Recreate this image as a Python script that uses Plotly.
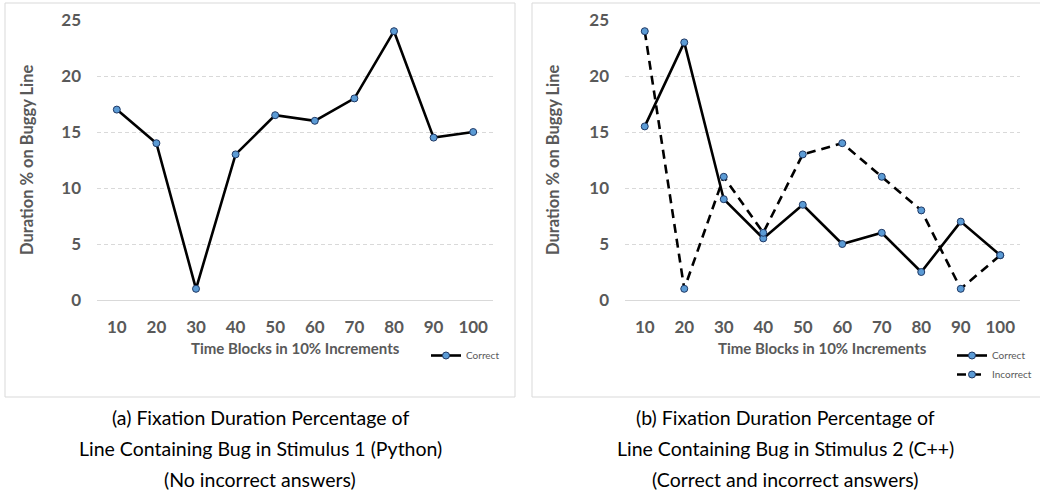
import plotly.graph_objects as go

categories = ["10", "20", "30", "40", "50", "60", "70", "80", "90", "100"]
py_correct = [17, 14, 1, 13, 16.5, 16, 18, 24, 14.5, 15]
cpp_correct = [15.5, 23, 9, 5.5, 8.5, 5, 6, 2.5, 7, 4]
cpp_incorrect = [24, 1, 11, 6, 13, 14, 11, 8, 1, 4]
y_ticks = [0, 5, 10, 15, 20, 25]
x_title = "Time Blocks in 10% Increments"
y_title = "Duration % on Buggy Line"
caption_a = ["(a) Fixation Duration Percentage of", "Line Containing Bug in Stimulus 1 (Python)", "(No incorrect answers)"]
caption_b = ["(b) Fixation Duration Percentage of", "Line Containing Bug in Stimulus 2 (C++)", "(Correct and incorrect answers)"]

W, H = 1040, 490
xpos = list(range(1, len(categories) + 1))

GRAY = "#595959"
MARK = dict(symbol="circle", size=7, color="#5b9bd5", line=dict(color="#1f3864", width=1))

fig = go.Figure()
fig.add_trace(go.Scatter(x=xpos, y=py_correct, mode="lines+markers", name="Correct",
                         line=dict(color="black", width=2.6), marker=MARK,
                         xaxis="x", yaxis="y", legend="legend"))
fig.add_trace(go.Scatter(x=xpos, y=cpp_correct, mode="lines+markers", name="Correct",
                         line=dict(color="black", width=2.6), marker=MARK,
                         xaxis="x2", yaxis="y2", legend="legend2"))
fig.add_trace(go.Scatter(x=xpos, y=cpp_incorrect, mode="lines+markers", name="Incorrect",
                         line=dict(color="black", width=2.6, dash="9px,6px"), marker=MARK,
                         xaxis="x2", yaxis="y2", legend="legend2"))

def px_x(p):
    return p / W

def px_y(p):
    return 1 - p / H

tickfont = dict(family="Lato, 'Open Sans', sans-serif", size=17, color=GRAY, weight="bold")

xcommon = dict(range=[0.5, 10.5], tickvals=xpos, ticktext=categories, showgrid=False,
               zeroline=False, showline=True, linecolor="#d9d9d9", linewidth=1,
               ticks="", ticklabelstandoff=12, tickfont=tickfont, fixedrange=True,
               automargin=False)
ycommon = dict(range=[0, 25], tickvals=y_ticks, showgrid=True, gridcolor="#d9d9d9",
               griddash="4px,3px", gridwidth=1, zeroline=False, showline=False,
               ticks="", ticklabelstandoff=15, tickfont=tickfont, fixedrange=True,
               automargin=False)

ydom = [px_y(300), px_y(20)]
fig.update_layout(
    width=W, height=H, margin=dict(l=0, r=0, t=0, b=0, pad=0, autoexpand=False),
    autosize=False,
    paper_bgcolor="white", plot_bgcolor="white",
    xaxis=dict(domain=[px_x(97), px_x(493)], anchor="y", **xcommon),
    yaxis=dict(domain=ydom, anchor="x", **ycommon),
    xaxis2=dict(domain=[px_x(625), px_x(1020)], anchor="y2", **xcommon),
    yaxis2=dict(domain=ydom, anchor="x2", **ycommon),
    legend=dict(x=px_x(426), y=px_y(341), xanchor="left", yanchor="top",
                font=dict(family="Lato, sans-serif", size=10, color=GRAY),
                bgcolor="rgba(0,0,0,0)", itemwidth=30, tracegroupgap=0),
    legend2=dict(x=px_x(952), y=px_y(341), xanchor="left", yanchor="top",
                 font=dict(family="Lato, sans-serif", size=10, color=GRAY),
                 bgcolor="rgba(0,0,0,0)", itemwidth=30, tracegroupgap=0),
    showlegend=True,
)

# panel borders
fig.add_shape(type="rect", xref="paper", yref="paper", x0=px_x(5), x1=px_x(515),
              y0=px_y(397), y1=px_y(3), line=dict(color="#d9d9d9", width=1), layer="below")
fig.add_shape(type="rect", xref="paper", yref="paper", x0=px_x(532), x1=px_x(1045),
              y0=px_y(397), y1=px_y(3), line=dict(color="#d9d9d9", width=1), layer="below")

xtitlefont = dict(family="Lato, 'Open Sans', sans-serif", size=15, color=GRAY, weight="bold")
ytitlefont = dict(family="Lato, 'Open Sans', sans-serif", size=16.5, color=GRAY, weight="bold")
for cx, cy_x in [(295, 27), (822, 553)]:
    fig.add_annotation(text=x_title, xref="paper", yref="paper", x=px_x(cx), y=px_y(348),
                       showarrow=False, font=xtitlefont, xanchor="center", yanchor="middle")
    fig.add_annotation(text=y_title, xref="paper", yref="paper", x=px_x(cy_x), y=px_y(160),
                       showarrow=False, font=ytitlefont, textangle=-90,
                       xanchor="center", yanchor="middle")

capfont = dict(family="Lato, 'Noto Sans', sans-serif", size=19.5, color="black")
cap_rows = [417, 448, 479]
for cx, lines in [(260, caption_a), (785, caption_b)]:
    for row, txt in zip(cap_rows, lines):
        fig.add_annotation(text=txt, xref="paper", yref="paper", x=px_x(cx), y=px_y(row),
                           showarrow=False, font=capfont, xanchor="center", yanchor="middle")

fig.write_html("out.html")
